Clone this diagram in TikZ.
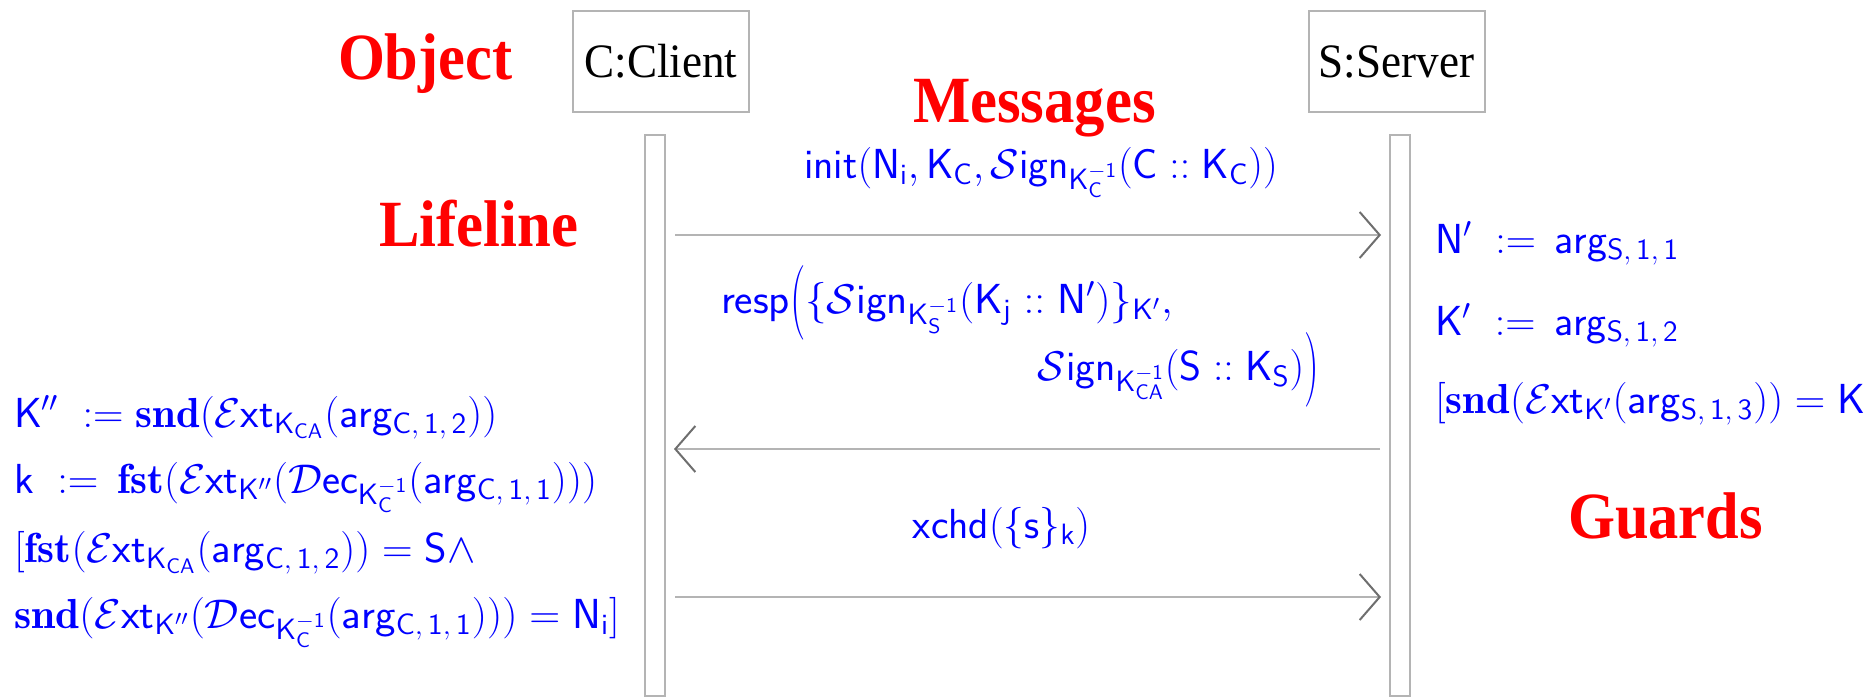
\documentclass[tikz,border=0pt]{standalone}
\usepackage{fontspec}
\newfontfamily\timesfont{Liberation Serif}
\usetikzlibrary{arrows.meta}
\definecolor{linegray}{HTML}{B4B4B4}
\definecolor{tipgray}{HTML}{6E6E6E}
\definecolor{mblue}{HTML}{0000FF}
\definecolor{lred}{HTML}{FF0000}
\newcommand\defs{\;\mathrel{:=}\,}
\newcommand\bigopen{\mathopen{\smash{\vcenter{\hbox{\scalebox{1}[1.8]{$($}}}}}}
\newcommand\bigclose{\mathclose{\smash{\vcenter{\hbox{\scalebox{1}[1.8]{$)$}}}}}}
\tikzset{
  every node/.style={inner sep=0pt, outer sep=0pt},
  objbox/.style={draw=linegray, line width=1pt, minimum width=88pt, minimum height=50.5pt,
    font=\timesfont\fontsize{24}{24}\selectfont},
  lifebox/.style={draw=linegray, line width=1pt, minimum width=10pt, minimum height=280.5pt},
  msg/.style={draw=linegray, line width=1.2pt, shorten <=5pt, shorten >=4.5pt,
    -{Straight Barb[length=10pt,width=23pt,color=tipgray,line width=1pt]}},
  redlbl/.style={anchor=base west, text=lred, font=\timesfont\bfseries\fontsize{33}{33}\selectfont},
  bluetxt/.style={anchor=base west, text=mblue, font=\fontsize{21}{25}\selectfont},
}
\begin{document}
\begin{tikzpicture}[x=0.5pt,y=-0.5pt]
\useasboundingbox (0,0) rectangle (1866,697);
\clip (0,0) rectangle (1866,697);
% objects
\node[objbox] (cbox) at (661,61.5) {\scalebox{0.94}[1]{C:Client}};
\node[objbox] (sbox) at (1396.5,61.5) {\scalebox{0.94}[1]{S:Server}};
% lifelines
\node[lifebox] (cl) at (655,415.5) {};
\node[lifebox] (sl) at (1400,415.5) {};
% message levels
\coordinate (y1) at (0,235);
\coordinate (y2) at (0,449);
\coordinate (y3) at (0,597);
\draw[msg] (cl.east |- y1) -- (sl.west |- y1);
\draw[msg] (sl.west |- y2) -- (cl.east |- y2);
\draw[msg] (cl.east |- y3) -- (sl.west |- y3);
% red labels
\node[redlbl] (lobj) at (338,79) {\scalebox{0.915}[1]{Object}};
\node[redlbl] (llife) at (379,246) {\scalebox{0.92}[1]{Lifeline}};
\node[redlbl] (lmsg) at (913,122) {\scalebox{0.92}[1]{Messages}};
\node[redlbl] (lguard) at (1568,538) {\scalebox{0.915}[1]{Guards}};
% message labels
\node[bluetxt, anchor=base] (m1) at (1041,178) {$\mathsf{init(N_i, K_C, \mathcal{S}ign_{K_C^{-1}}(C\mathrel{::}K_C))}$};
\node[bluetxt] (m2a) at (721,313) {\scalebox{1.04}[1]{$\mathsf{resp\bigopen\{\mathcal{S}ign_{K_S^{-1}}(K_j\mathrel{::}N')\}_{K'},}$}};
\node[bluetxt, anchor=base east] (m2b) at (1319,380) {$\mathsf{\mathcal{S}ign_{K_{CA}^{-1}}(S\mathrel{::}K_S)\bigclose}$};
\node[bluetxt, anchor=base] (m3) at (1001.5,538) {$\mathsf{xchd(\{s\}_k)}$};
% client guards
\node[bluetxt] (g1) at (14,427) {\scalebox{1.02}[1]{$\mathsf{K''\;\mathrel{:=}\mathbf{snd}(\mathcal{E}xt_{K_{CA}}(arg_{C,\,1,\,2}))}$}};
\node[bluetxt] (g2) at (14,493) {\scalebox{1.023}[1]{$\mathsf{k\defs\mathbf{fst}(\mathcal{E}xt_{K''}(\mathcal{D}ec_{K_C^{-1}}(arg_{C,\,1,\,1})))}$}};
\node[bluetxt] (g3) at (14,562) {\scalebox{1.025}[1]{$\mathsf{[\mathbf{fst}(\mathcal{E}xt_{K_{CA}}(arg_{C,\,1,\,2}))=S\wedge}$}};
\node[bluetxt] (g4) at (14,628) {\scalebox{1.035}[1]{$\mathsf{\mathbf{snd}(\mathcal{E}xt_{K''}(\mathcal{D}ec_{K_C^{-1}}(arg_{C,\,1,\,1})))=N_i]}$}};
% server guards
\node[bluetxt] (s1) at (1435,253) {\scalebox{1.01}[1]{$\mathsf{N'\defs arg_{S,\,1,\,1}}$}};
\node[bluetxt] (s2) at (1435,335) {\scalebox{1.01}[1]{$\mathsf{K'\defs arg_{S,\,1,\,2}}$}};
\node[bluetxt] (s3) at (1435,413) {\scalebox{1.02}[1]{$\mathsf{[\mathbf{snd}(\mathcal{E}xt_{K'}(arg_{S,\,1,\,3}))=K}$}};
\end{tikzpicture}
\end{document}
